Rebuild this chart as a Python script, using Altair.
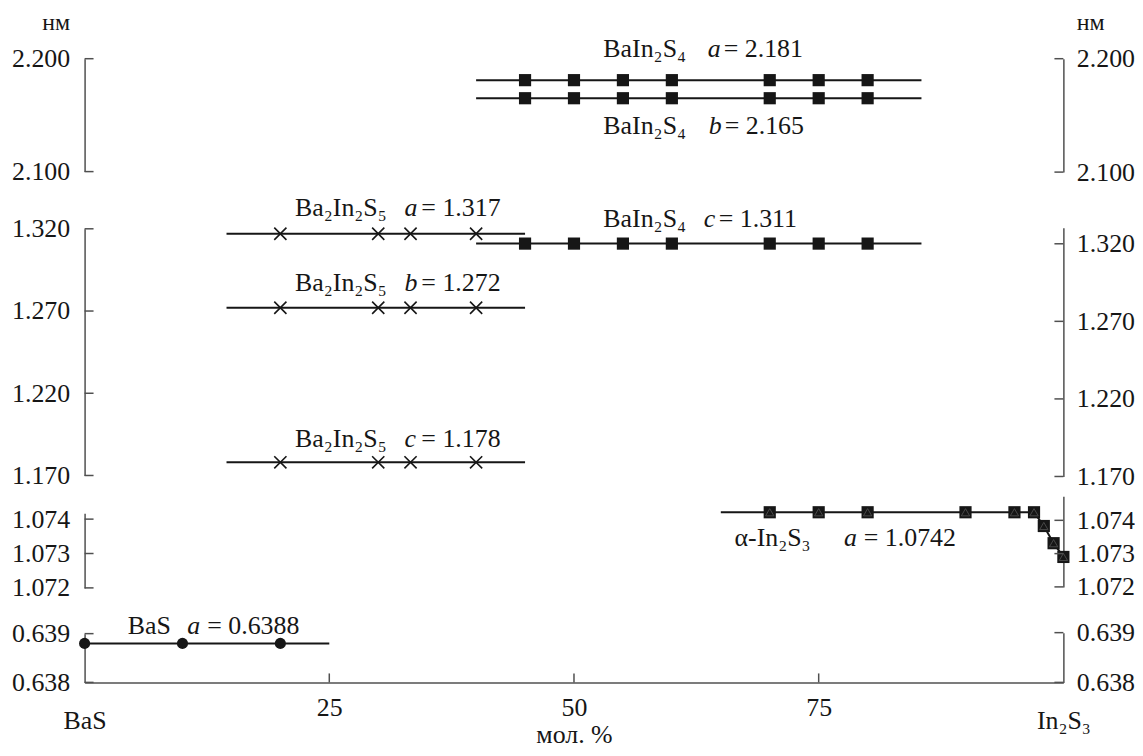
import altair as alt
import pandas as pd

# ---------------- data (x: mol. % In2S3, y: lattice parameter, nm) ----------------
bain2s4_x = [45, 50, 55, 60, 70, 75, 80]
bain2s4_span = [40, 85.5]
bain2s4_a = 2.181
bain2s4_b = 2.165
bain2s4_c = 1.311

ba2in2s5_x = [20, 30, 33.3, 40]
ba2in2s5_span = [14.5, 45]
ba2in2s5_a = 1.317
ba2in2s5_b = 1.272
ba2in2s5_c = 1.178

in2s3_line_x = [65, 70, 75, 80, 90, 95, 97, 98, 99, 100]
in2s3_line_a = [1.0742, 1.0742, 1.0742, 1.0742, 1.0742, 1.0742, 1.0742, 1.0738, 1.0733, 1.0729]
in2s3_marker_x = [70, 75, 80, 90, 95, 97, 98, 99, 100]
in2s3_marker_a = [1.0742, 1.0742, 1.0742, 1.0742, 1.0742, 1.0742, 1.0738, 1.0733, 1.0729]

bas_x = [0, 10, 20]
bas_span = [0, 25]
bas_a = 0.6388

# axis ticks
top_ticks = [2.100, 2.200]
mid_ticks = [1.170, 1.220, 1.270, 1.320]
low_ticks = [1.072, 1.073, 1.074]
bot_ticks = [0.638, 0.639]
x_ticks = [0, 25, 50, 75, 100]
x_tick_labels = ["BaS", "25", "50", "75", "In₂S₃"]
x_inner_ticks = [25, 50, 75]
y_unit = "нм"
x_title = "мол. %"

# annotations
ann_compound = ["BaIn₂S₄", "BaIn₂S₄", "BaIn₂S₄", "Ba₂In₂S₅", "Ba₂In₂S₅", "Ba₂In₂S₅", "α-In₂S₃", "BaS"]
ann_param = ["a", "b", "c", "a", "b", "c", "a", "a"]
ann_value = [2.181, 2.165, 1.311, 1.317, 1.272, 1.178, 1.0742, 0.6388]
ann_value_text = ["2.181", "2.165", "1.311", "1.317", "1.272", "1.178", "1.0742", "0.6388"]
ann_x = [53.0, 53.0, 53.0, 21.5, 21.5, 21.5, 66.4, 4.4]
ann_panel = [1, 1, 2, 2, 2, 2, 3, 4]

# ---------------- style ----------------
FONT = "Liberation Serif"
INK = "#161616"
AX = "#505050"
W, H = 984, 627
FS = 26
ann_dy = [-23, 36, -17, -18, -17, -15, 34, -9]
ann_dx_letter = [105, 106, 101, 110, 110, 110, 110, 60]
ann_dx_rest = [121, 122, 116, 127, 127, 127, 130, 80]

panel_left = {
    1: dict(domain=[2.100, 2.200], range=[113.5, 0], ticks=top_ticks),
    2: dict(domain=[1.170, 1.320], range=[419, 171], ticks=mid_ticks),
    3: dict(domain=[1.072, 1.07417], range=[532, 457], ticks=low_ticks),
    4: dict(domain=[0.638, 0.639], range=[627, 578], ticks=bot_ticks),
}
panel_right = {
    1: dict(domain=[2.100, 2.200], range=[114, 0], ticks=top_ticks),
    2: dict(domain=[1.170, 1.3303], range=[420, 170], ticks=mid_ticks),
    3: dict(domain=[1.072, 1.07472], range=[531, 440], ticks=low_ticks),
    4: dict(domain=[0.638, 0.639], range=[627, 577], ticks=bot_ticks),
}

label_expr = " : ".join(f"datum.value == {v} ? '{t}'" for v, t in zip(x_ticks, x_tick_labels)) + " : ''"
X = alt.X(
    "x:Q",
    scale=alt.Scale(domain=[0, 100], nice=False, zero=False),
    axis=alt.Axis(
        values=x_ticks, labelExpr=label_expr, title=x_title, labelFlush=False,
        labelPadding={"condition": {"test": "datum.value == 0 || datum.value == 100", "value": 25}, "value": 12},
        titleY=60, titleBaseline="alphabetic", titleFont=FONT, titleFontSize=FS,
        titleFontWeight="normal", titleColor=INK,
    ),
)


def make_y(cfg, orient, with_title):
    kw = dict(values=cfg["ticks"], format=".3f", orient=orient,
              labelPadding=15 if orient == "left" else 13, labelOverlap=False)
    if with_title:
        kw.update(title=y_unit, titleAngle=0, titleY=-29,
                  titleX=-15 if orient == "left" else 13,
                  titleAlign="right" if orient == "left" else "left",
                  titleBaseline="alphabetic", titleFont=FONT, titleFontSize=24,
                  titleFontWeight="normal", titleColor=INK)
    else:
        kw["title"] = None
    return alt.Y("y:Q", scale=alt.Scale(domain=cfg["domain"], range=cfg["range"], nice=False, zero=False),
                 axis=alt.Axis(**kw))


def hline(name, span, val):
    return pd.DataFrame({"x": span, "y": [val, val], "series": [name, name]})


def pts(xs, val):
    return pd.DataFrame({"x": xs, "y": val if isinstance(val, list) else [val] * len(xs)})


square = dict(shape="square", size=150, filled=True, color=INK, opacity=1)
cross = dict(shape="M-1,-1L1,1M-1,1L1,-1", size=150, filled=False, stroke=INK, strokeWidth=1.6, opacity=1)
circle = dict(shape="circle", size=125, filled=True, color=INK, opacity=1)
triangle = dict(shape="triangle-up", size=70, filled=False, stroke="#4a4a4a", strokeWidth=1, opacity=1)

panel_lines = {
    1: [hline("a", bain2s4_span, bain2s4_a), hline("b", bain2s4_span, bain2s4_b)],
    2: [hline("a5", ba2in2s5_span, ba2in2s5_a), hline("b5", ba2in2s5_span, ba2in2s5_b),
        hline("c5", ba2in2s5_span, ba2in2s5_c), hline("c4", bain2s4_span, bain2s4_c)],
    3: [pd.DataFrame({"x": in2s3_line_x, "y": in2s3_line_a, "series": "in2s3"})],
    4: [hline("bas", bas_span, bas_a)],
}
panel_markers = {
    1: [(pts(bain2s4_x, bain2s4_a), square), (pts(bain2s4_x, bain2s4_b), square)],
    2: [(pts(ba2in2s5_x, ba2in2s5_a), cross), (pts(ba2in2s5_x, ba2in2s5_b), cross),
        (pts(ba2in2s5_x, ba2in2s5_c), cross), (pts(bain2s4_x, bain2s4_c), square)],
    3: [(pts(in2s3_marker_x, in2s3_marker_a), square), (pts(in2s3_marker_x, in2s3_marker_a), triangle)],
    4: [(pts(bas_x, bas_a), circle)],
}

groups = []
for p in [1, 2, 3, 4]:
    Y = make_y(panel_left[p], "left", p == 1)
    layers = [
        alt.Chart(pd.DataFrame({"y": panel_left[p]["ticks"]})).mark_rule(color=AX, strokeWidth=1.5)
        .encode(y=Y, x=alt.value(0), x2=alt.value(9))
    ]
    for df in panel_lines[p]:
        layers.append(alt.Chart(df).mark_line(color=INK, strokeWidth=2).encode(x=X, y=Y, detail="series:N"))
    for df, style in panel_markers[p]:
        layers.append(alt.Chart(df).mark_point(**style).encode(x=X, y=Y))
    for i in range(len(ann_compound)):
        if ann_panel[i] != p:
            continue
        d = pd.DataFrame({"x": [ann_x[i]], "y": [ann_value[i]]})
        base = dict(font=FONT, fontSize=FS, color=INK, align="left", baseline="alphabetic", dy=ann_dy[i])
        layers.append(alt.Chart(d).mark_text(**base).encode(x=X, y=Y, text=alt.value(ann_compound[i])))
        layers.append(alt.Chart(d).mark_text(fontStyle="italic", dx=ann_dx_letter[i], **base)
                      .encode(x=X, y=Y, text=alt.value(ann_param[i])))
        layers.append(alt.Chart(d).mark_text(dx=ann_dx_rest[i], **base)
                      .encode(x=X, y=Y, text=alt.value("= " + ann_value_text[i])))
    groups.append(alt.layer(*layers))

    YR = make_y(panel_right[p], "right", p == 1)
    groups.append(
        alt.Chart(pd.DataFrame({"y": panel_right[p]["ticks"]})).mark_rule(color=AX, strokeWidth=1.5)
        .encode(y=YR, x=alt.value(W - 9), x2=alt.value(W))
    )

xt = alt.Chart(pd.DataFrame({"x": x_inner_ticks})).mark_rule(color=AX, strokeWidth=1.5).encode(
    x=X, y=alt.value(H), y2=alt.value(H - 9))
groups.append(xt)

chart = (
    alt.layer(*groups)
    .resolve_scale(y="independent")
    .resolve_axis(y="independent")
    .properties(width=W, height=H, padding={"left": 77, "top": 49, "right": 72, "bottom": 66},
                autosize=alt.AutoSizeParams(type="none"))
    .configure_view(stroke=None)
    .configure_axis(grid=False, ticks=False, domain=True, domainColor=AX, domainWidth=1.5,
                    labelFont=FONT, labelFontSize=FS, labelColor=INK)
)

chart.save("out.html", embed_options={"renderer": "svg", "actions": False})
